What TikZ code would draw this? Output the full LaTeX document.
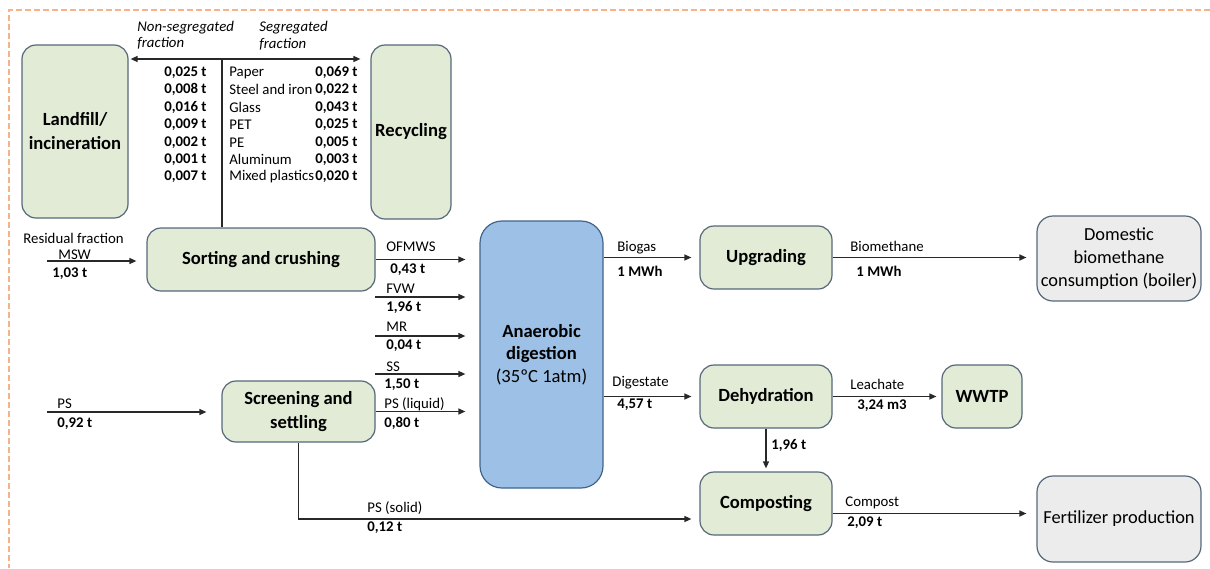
\documentclass[tikz,border=0pt]{standalone}
\usepackage{fontspec}
\setmainfont{Carlito}
\usetikzlibrary{arrows.meta}
\definecolor{boxgreen}{RGB}{226,235,214}
\definecolor{boxedge}{RGB}{86,104,122}
\definecolor{adblue}{RGB}{157,193,230}
\definecolor{adedge}{RGB}{65,100,140}
\definecolor{boxgray}{RGB}{236,236,236}
\definecolor{frameorange}{RGB}{247,178,135}
\definecolor{linegray}{RGB}{40,40,40}
\begin{document}
\begin{tikzpicture}[x=0.5pt,y=-0.5pt,
  proc/.style={draw=boxedge, line width=0.6pt, fill=boxgreen, rounded corners=7pt, align=center,
    font=\fontsize{9.3}{12}\selectfont\bfseries, inner sep=0pt},
  adbox/.style={draw=adedge, line width=0.6pt, fill=adblue, rounded corners=11pt, align=center,
    font=\fontsize{9.3}{11.3}\selectfont\bfseries, inner sep=0pt},
  endbox/.style={draw=boxedge, line width=0.6pt, fill=boxgray, rounded corners=8pt, align=center,
    font=\fontsize{9.2}{11.5}\selectfont, inner sep=0pt},
  lbl/.style={inner sep=0pt, anchor=west, yshift=-0.75pt, font=\fontsize{7.4}{8.7}\selectfont},
  val/.style={inner sep=0pt, anchor=west, yshift=-0.75pt, font=\fontsize{7.4}{8.7}\selectfont\bfseries},
  valr/.style={inner sep=0pt, anchor=east, yshift=-0.75pt, font=\fontsize{7.4}{8.7}\selectfont\bfseries},
  ilbl/.style={inner sep=0pt, anchor=west, yshift=-0.75pt, font=\fontsize{7.4}{8.7}\selectfont\itshape},
  conn/.style={draw=linegray, line width=0.65pt},
  arr/.style={conn, -{Triangle[length=3.5pt,width=3pt]}},
  arrtwo/.style={conn, {Triangle[length=3.5pt,width=3pt]}-{Triangle[length=3.5pt,width=3pt]}}
]
\useasboundingbox (0,0) rectangle (1210,568);
\draw[frameorange, line width=0.8pt, dash pattern=on 3pt off 1.5pt] (1210,10) -- (9,10) -- (9,568);

% boxes
\node[proc, minimum width=53pt, minimum height=86.5pt] (land) at (75,131.5) {Landfill/\\incineration};
\node[proc, minimum width=40pt, minimum height=87pt] (rec) at (411,132) {Recycling};
\node[proc, minimum width=114pt, minimum height=31.5pt] (sort) at (261,259.5) {Sorting and crushing};
\node[proc, minimum width=76.5pt, minimum height=30.5pt] (screen) at (298.5,411.5) {Screening and\\settling};
\node[adbox, minimum width=61.5pt, minimum height=133.5pt] (ad) at (541.5,354.5) {Anaerobic\\digestion\\{\mdseries (35ºC 1atm)}};
\node[proc, minimum width=66pt, minimum height=31.5pt] (upg) at (766,257.5) {Upgrading};
\node[proc, minimum width=66pt, minimum height=31.5pt] (deh) at (766,396.5) {Dehydration};
\node[proc, minimum width=66pt, minimum height=31.5pt] (comp) at (766,503.5) {Composting};
\node[proc, minimum width=40pt, minimum height=31.5pt] (wwtp) at (982,396.5) {WWTP};
\node[endbox, minimum width=82pt, minimum height=42.5pt] (dom) at (1119,258.5) {Domestic\\biomethane\\consumption (boiler)};
\node[endbox, minimum width=82pt, minimum height=43pt] (fert) at (1119,519) {Fertilizer production};

% top split
\coordinate (split) at (222,59);
\draw[arrtwo, shorten <=1pt, shorten >=5pt] (land.east |- split) -- (rec.west |- split);
\draw[conn] (split) -- (split |- sort.north);
\node[ilbl] (nsa) at (137,26) {Non-segregated};
\node[ilbl] (nsb) at (137,42) {fraction};
\node[ilbl] (sga) at (259,26) {Segregated};
\node[ilbl] (sgb) at (259,43) {fraction};

\node[valr] (tl1) at (207,71) {0,025 t};
\node[valr] (tl2) at (207,88) {0,008 t};
\node[valr] (tl3) at (207,106) {0,016 t};
\node[valr] (tl4) at (207,123) {0,009 t};
\node[valr] (tl5) at (207,141) {0,002 t};
\node[valr] (tl6) at (207,158) {0,001 t};
\node[valr] (tl7) at (207,175) {0,007 t};
\node[lbl] (tm1) at (229,71) {Paper};
\node[lbl] (tm2) at (229,88) {Steel and iron};
\node[lbl] (tm3) at (229,106) {Glass};
\node[lbl] (tm4) at (229,123) {PET};
\node[lbl] (tm5) at (229,141) {PE};
\node[lbl] (tm6) at (229,158) {Aluminum};
\node[lbl] (tm7) at (229,175) {Mixed plastics};
\node[valr] (tr1) at (358,71) {0,069 t};
\node[valr] (tr2) at (358,88) {0,022 t};
\node[valr] (tr3) at (358,106) {0,043 t};
\node[valr] (tr4) at (358,123) {0,025 t};
\node[valr] (tr5) at (358,141) {0,005 t};
\node[valr] (tr6) at (358,158) {0,003 t};
\node[valr] (tr7) at (358,175) {0,020 t};

% inputs
\coordinate (msw) at (47,261);
\draw[arr, shorten >=5pt] (msw) -- (msw -| sort.west);
\node[lbl] (rfl) at (23,237) {Residual fraction};
\node[lbl] (mswl) at (58,253) {MSW};
\node[val] (mswv) at (52,272) {1,03 t};

\coordinate (psin) at (47,412);
\draw[arr, shorten >=7.5pt] (psin) -- (psin -| screen.west);
\node[lbl] (psl) at (57,402) {PS};
\node[val] (psv) at (57,422) {0,92 t};

% to AD
\draw[arr, shorten >=7pt] (sort.east) -- (sort.east -| ad.west);
\coordinate (fvw) at (375,297);
\coordinate (mr) at (375,336);
\coordinate (ss) at (375,374);
\draw[arr, shorten >=7pt] (fvw) -- (fvw -| ad.west);
\draw[arr, shorten >=7pt] (mr) -- (mr -| ad.west);
\draw[arr, shorten >=7pt] (ss) -- (ss -| ad.west);
\draw[arr, shorten >=7pt] (screen.east) -- (screen.east -| ad.west);
\node[lbl] (l1) at (386,245) {OFMWS};
\node[val] (v1) at (390,268) {0,43 t};
\node[lbl] (l2) at (386,287) {FVW};
\node[val] (v2) at (386,306) {1,96 t};
\node[lbl] (l3) at (386,325) {MR};
\node[val] (v3) at (386,344) {0,04 t};
\node[lbl] (l4) at (386,365) {SS};
\node[val] (v4) at (384,383) {1,50 t};
\node[lbl] (l5) at (384,403) {PS (liquid)};
\node[val] (v5) at (384,422) {0,80 t};

% AD outputs
\draw[arr, shorten >=4pt] (ad.east |- upg.west) -- (upg.west);
\node[lbl] (bgl) at (617,246) {Biogas};
\node[val] (bgv) at (617,270) {1 MWh};
\draw[arr, shorten >=4pt] (ad.east |- deh.west) -- (deh.west);
\node[lbl] (dgl) at (612,381) {Digestate};
\node[val] (dgv) at (617,403) {4,57 t};

\draw[arr, shorten >=5pt] (upg.east) -- (upg.east -| dom.west);
\node[lbl] (bml) at (850,245) {Biomethane};
\node[val] (bmv) at (856,270) {1 MWh};

\draw[arr, shorten >=2.5pt] (deh.east) -- (wwtp.west);
\node[lbl] (lcl) at (850,383) {Leachate};
\node[val] (lcv) at (857,404) {3,24 m3};

\draw[arr, shorten >=1.5pt] (deh.south) -- (comp.north);
\node[val] (dcv) at (771,444) {1,96 t};

\path ([yshift=-5pt]comp.east) coordinate (cpo);
\draw[arr, shorten >=5pt] (cpo) -- (cpo -| fert.west);
\node[lbl] (cml) at (845,501) {Compost};
\node[val] (cmv) at (847,521) {2,09 t};

\draw[arr, shorten >=4pt] (screen.south) |- ([yshift=-7.75pt]comp.west);
\node[lbl] (psol) at (367,507) {PS (solid)};
\node[val] (psov) at (367,526) {0,12 t};
\end{tikzpicture}
\end{document}
